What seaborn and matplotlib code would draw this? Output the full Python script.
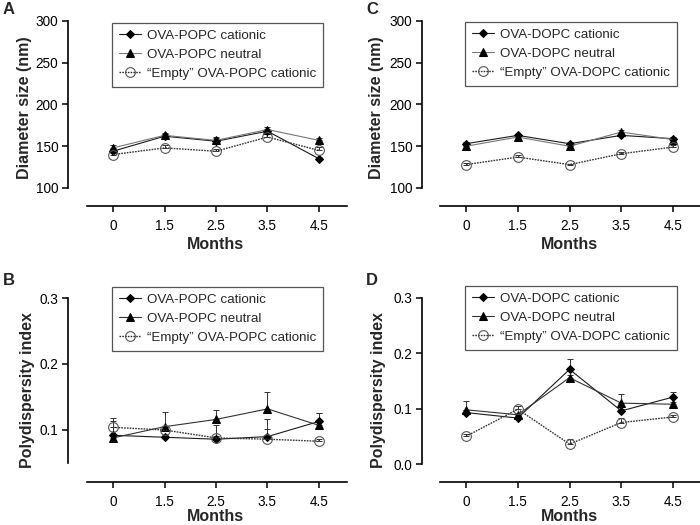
import numpy as np
import pandas as pd
import matplotlib
matplotlib.use('Agg')
import matplotlib.pyplot as plt
import seaborn as sns
from matplotlib.ticker import FormatStrFormatter

sns.set_style('ticks')
plt.rcParams['font.family'] = ['Liberation Sans', 'DejaVu Sans']

months = ["0", "1.5", "2.5", "3.5", "4.5"]

# Panel A: POPC diameter (nm)
popc_cat_size = [144, 162, 156, 168, 135]
popc_neu_size = [148, 163, 157, 170, 157]
popc_emp_size = [140, 148, 144, 161, 145]
popc_cat_size_err = [3, 3, 4, 3, 2]
popc_neu_size_err = [3, 3, 4, 3, 3]
popc_emp_size_err = [2, 3, 3, 4, 4]

# Panel C: DOPC diameter (nm)
dopc_cat_size = [153, 163, 153, 163, 159]
dopc_neu_size = [150, 161, 150, 167, 158]
dopc_emp_size = [128, 137, 128, 141, 149]
dopc_cat_size_err = [2, 2, 2, 3, 2]
dopc_neu_size_err = [2, 2, 2, 2, 2]
dopc_emp_size_err = [2, 2, 1, 2, 2]

# Panel B: POPC polydispersity index
popc_cat_pdi = [0.092, 0.089, 0.086, 0.090, 0.113]
popc_neu_pdi = [0.088, 0.105, 0.116, 0.132, 0.107]
popc_emp_pdi = [0.104, 0.100, 0.088, 0.086, 0.083]
popc_cat_pdi_err = [0.022, 0.003, 0.021, 0.027, 0.012]
popc_neu_pdi_err = [0.004, 0.023, 0.014, 0.026, 0.018]
popc_emp_pdi_err = [0.014, 0.004, 0.003, 0.015, 0.003]

# Panel D: DOPC polydispersity index
dopc_cat_pdi = [0.093, 0.083, 0.171, 0.096, 0.121]
dopc_neu_pdi = [0.098, 0.089, 0.156, 0.110, 0.108]
dopc_emp_pdi = [0.050, 0.099, 0.036, 0.075, 0.085]
dopc_cat_pdi_err = [0.004, 0.004, 0.019, 0.004, 0.010]
dopc_neu_pdi_err = [0.015, 0.004, 0.004, 0.016, 0.004]
dopc_emp_pdi_err = [0.005, 0.005, 0.009, 0.008, 0.003]

fig = plt.figure(figsize=(7, 5.25), dpi=100)
W, H = 700.0, 525.0


def make_ax(left, right, top, bottom):
    return fig.add_axes([left / W, 1 - bottom / H, (right - left) / W, (bottom - top) / H])


def draw_panel(ax, lipid, cat, neu, emp, cat_e, neu_e, emp_e, neu_color):
    names = [f"OVA-{lipid} cationic", f"OVA-{lipid} neutral", f"\u201cEmpty\u201d OVA-{lipid} cationic"]
    df = pd.DataFrame({
        'Months': months * 3,
        'value': cat + neu + emp,
        'err': cat_e + neu_e + emp_e,
        'series': [names[0]] * 5 + [names[1]] * 5 + [names[2]] * 5,
    })
    styles = {
        names[0]: dict(color='#1a1a1a', marker='D', markersize=4.2, markerfacecolor='black',
                       markeredgecolor='black', linestyle='-', linewidth=0.8),
        names[1]: dict(color=neu_color, marker='^', markersize=6, markerfacecolor='black',
                       markeredgecolor='black', linestyle='-', linewidth=0.8),
        names[2]: dict(color='#333333', marker='o', markersize=7, markerfacecolor='none',
                       markeredgecolor='#555555', markeredgewidth=0.8,
                       linestyle=(0, (1.2, 0.8)), linewidth=1.0),
    }
    for name in names:
        sub = df[df['series'] == name]
        ax.errorbar(sub['Months'], sub['value'], yerr=[np.zeros(len(sub)), sub['err']],
                    fmt='none', ecolor='#333333', elinewidth=0.7, capsize=2.2, capthick=0.7, zorder=2)
    for name in names:
        sub = df[df['series'] == name]
        sns.lineplot(data=sub, x='Months', y='value', ax=ax, sort=False, label=name,
                     zorder=3, **styles[name])
    leg = ax.legend(loc='upper left', frameon=True, fancybox=False, framealpha=1,
                    edgecolor='#555555', fontsize=9.6, handlelength=1.7, handletextpad=0.45,
                    labelspacing=0.5, borderpad=0.5, borderaxespad=0)
    leg.get_frame().set_linewidth(0.9)
    return leg


def style_axes(ax, ylim, ybounds, yticks, xlim, xb0, ylabel, yfmt=None):
    ax.set_xlim(*xlim)
    ax.set_ylim(*ylim)
    ax.set_yticks(yticks)
    if yfmt:
        ax.yaxis.set_major_formatter(FormatStrFormatter(yfmt))
    sns.despine(ax=ax)
    ax.spines['left'].set_bounds(*ybounds)
    ax.spines['bottom'].set_bounds(xb0, xlim[1])
    for s in ('left', 'bottom'):
        ax.spines[s].set_linewidth(1.2)
        ax.spines[s].set_color('black')
    ax.tick_params(axis='both', direction='out', length=4.5, width=1.1, labelsize=9.8,
                   colors='black')
    ax.tick_params(axis='x', pad=4.5)
    ax.tick_params(axis='y', pad=2.5)
    ax.set_xlabel('Months', fontsize=11.5, fontweight='bold')
    ax.set_ylabel(ylabel, fontsize=11.5, fontweight='bold')


# Panel A
axA = make_ax(68, 347, 21, 206)
legA = draw_panel(axA, 'POPC', popc_cat_size, popc_neu_size, popc_emp_size,
                  popc_cat_size_err, popc_neu_size_err, popc_emp_size_err, '#777777')
style_axes(axA, (78.4, 300), (100, 300), [100, 150, 200, 250, 300], (-0.874, 4.544), -0.505,
           'Diameter size (nm)')
legA.set_bbox_to_anchor((0.158, 0.989), transform=axA.transAxes)
axA.yaxis.set_label_coords(-0.13, 0.53)
axA.xaxis.set_label_coords(0.53, -0.17)

# Panel C
axC = make_ax(422, 700, 21, 206)
legC = draw_panel(axC, 'DOPC', dopc_cat_size, dopc_neu_size, dopc_emp_size,
                  dopc_cat_size_err, dopc_neu_size_err, dopc_emp_size_err, '#777777')
style_axes(axC, (78.4, 300), (100, 300), [100, 150, 200, 250, 300], (-0.85, 4.52), -0.502,
           'Diameter size (nm)')
legC.set_bbox_to_anchor((0.155, 0.995), transform=axC.transAxes)
axC.yaxis.set_label_coords(-0.135, 0.53)
axC.xaxis.set_label_coords(0.529, -0.17)

# Panel B
axB = make_ax(68, 347, 298, 482)
legB = draw_panel(axB, 'POPC', popc_cat_pdi, popc_neu_pdi, popc_emp_pdi,
                  popc_cat_pdi_err, popc_neu_pdi_err, popc_emp_pdi_err, '#333333')
style_axes(axB, (0.0212, 0.3), (0.05, 0.3), [0.1, 0.2, 0.3], (-0.874, 4.544), -0.505,
           'Polydispersity index', '%.1f')
legB.set_bbox_to_anchor((0.158, 1.06), transform=axB.transAxes)
axB.yaxis.set_label_coords(-0.12, 0.5)
axB.xaxis.set_label_coords(0.53, -0.145)

# Panel D
axD = make_ax(422, 700, 298, 482)
legD = draw_panel(axD, 'DOPC', dopc_cat_pdi, dopc_neu_pdi, dopc_emp_pdi,
                  dopc_cat_pdi_err, dopc_neu_pdi_err, dopc_emp_pdi_err, '#333333')
style_axes(axD, (-0.0325, 0.3), (0.0, 0.3), [0.0, 0.1, 0.2, 0.3], (-0.85, 4.52), -0.502,
           'Polydispersity index', '%.1f')
legD.set_bbox_to_anchor((0.155, 1.065), transform=axD.transAxes)
axD.yaxis.set_label_coords(-0.13, 0.5)
axD.xaxis.set_label_coords(0.529, -0.145)

# Panel letters
for letter, x, y in [('A', 3, 2), ('C', 366, 2), ('B', 3, 273), ('D', 366, 273)]:
    fig.text(x / W, 1 - y / H, letter, fontsize=12, fontweight='bold', ha='left', va='top')

fig.savefig('out.png', dpi=100)
